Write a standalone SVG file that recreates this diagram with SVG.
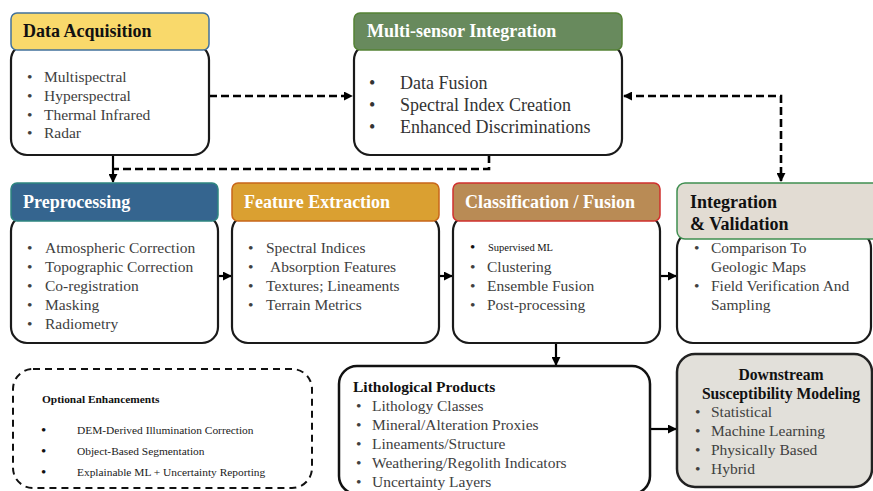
<svg xmlns="http://www.w3.org/2000/svg" width="873" height="491" viewBox="0 0 873 491">
<defs>
<marker id="ah" viewBox="0 0 10 10" refX="9" refY="5" markerWidth="9" markerHeight="9" markerUnits="userSpaceOnUse" orient="auto-start-reverse">
<path d="M0,0 L10,5 L0,10 z" fill="#000"/>
</marker>
<style>
text{font-family:"Liberation Serif","Times New Roman",serif;}
.body{fill:#fff;stroke:#1a1a1a;stroke-width:2.2;}
.hd{font-size:18px;font-weight:bold;}
.w{fill:#fff;}
.k{fill:#111;}
.it{font-size:15.5px;fill:#404040;}
.it2{font-size:18px;fill:#333;}
.sm{font-size:11.4px;fill:#1a1a1a;}
.bl{font-size:15px;fill:#111;}
.solid{fill:none;stroke:#000;stroke-width:2.2;}
.dash{fill:none;stroke:#000;stroke-width:2.6;stroke-dasharray:8 4;}
</style>
</defs>
<rect width="873" height="491" fill="#fff"/>

<g id="connectors">
<path class="dash" d="M209,96 H352" marker-end="url(#ah)"/>
<path class="dash" d="M624,96 H781 V181" marker-start="url(#ah)" marker-end="url(#ah)"/>
<path class="dash" d="M489,155 V169 H113"/>
<path class="solid" d="M113,155 V182" marker-end="url(#ah)"/>
<path class="solid" d="M218,276 H231" marker-end="url(#ah)"/>
<path class="solid" d="M439,276 H452" marker-end="url(#ah)"/>
<path class="solid" d="M660,276 H676" marker-end="url(#ah)"/>
<path class="solid" d="M556,343 V365" marker-end="url(#ah)"/>
<path class="solid" d="M651,429 H676" marker-end="url(#ah)" stroke-width="2.6"/>
</g>

<g id="data-acquisition">
<rect class="body" x="11" y="44" width="198" height="111" rx="16"/>
<rect x="11" y="13" width="198" height="37" rx="6" fill="#F9D96B" stroke="#41719C" stroke-width="1.5"/>
<text class="hd k" x="23" y="37">Data Acquisition</text>
<g class="it">
<text x="27" y="82">•</text><text x="44" y="82">Multispectral</text>
<text x="27" y="101">•</text><text x="44" y="101">Hyperspectral</text>
<text x="27" y="119.5">•</text><text x="44" y="119.5">Thermal Infrared</text>
<text x="27" y="138">•</text><text x="44" y="138">Radar</text>
</g>
</g>

<g id="multi-sensor-integration">
<rect class="body" x="354" y="44" width="268" height="111" rx="16"/>
<rect x="354" y="13" width="268" height="37" rx="6" fill="#688A5D" stroke="#548235" stroke-width="1.5"/>
<text class="hd w" x="367" y="37">Multi-sensor Integration</text>
<g class="it2">
<text x="369" y="89">•</text><text x="400" y="89">Data Fusion</text>
<text x="369" y="111">•</text><text x="400" y="111">Spectral Index Creation</text>
<text x="369" y="133">•</text><text x="400" y="133">Enhanced Discriminations</text>
</g>
</g>

<g id="preprocessing">
<rect class="body" x="11" y="215" width="207" height="128" rx="16"/>
<rect x="11" y="183" width="207" height="38" rx="6" fill="#35658F" stroke="#2E8580" stroke-width="1.5"/>
<text class="hd w" x="23" y="208">Preprocessing</text>
<g class="it">
<text x="27" y="253">•</text><text x="45" y="253">Atmospheric Correction</text>
<text x="27" y="272">•</text><text x="45" y="272">Topographic Correction</text>
<text x="27" y="291">•</text><text x="45" y="291">Co-registration</text>
<text x="27" y="310">•</text><text x="45" y="310">Masking</text>
<text x="27" y="328.5">•</text><text x="45" y="328.5">Radiometry</text>
</g>
</g>

<g id="feature-extraction">
<rect class="body" x="232" y="215" width="207" height="128" rx="16"/>
<rect x="232" y="183" width="207" height="38" rx="6" fill="#DAA031" stroke="#C8661A" stroke-width="1.5"/>
<text class="hd w" x="244" y="208">Feature Extraction</text>
<g class="it">
<text x="248" y="253">•</text><text x="266" y="253">Spectral Indices</text>
<text x="248" y="272">•</text><text x="270" y="272">Absorption Features</text>
<text x="248" y="291">•</text><text x="266" y="291">Textures; Lineaments</text>
<text x="248" y="310">•</text><text x="266" y="310">Terrain Metrics</text>
</g>
</g>

<g id="classification-fusion">
<rect class="body" x="453" y="215" width="207" height="128" rx="16"/>
<rect x="453" y="183" width="207" height="38" rx="6" fill="#B98B55" stroke="#D0302E" stroke-width="1.5"/>
<text class="hd w" x="465" y="208">Classification / Fusion</text>
<text x="470" y="252" class="bl">•</text>
<text x="488" y="251" style="font-size:10.5px;fill:#111">Supervised ML</text>
<g class="it">
<text x="470" y="272">•</text><text x="487" y="272">Clustering</text>
<text x="470" y="291">•</text><text x="487" y="291">Ensemble Fusion</text>
<text x="470" y="310">•</text><text x="487" y="310">Post-processing</text>
</g>
</g>

<g id="integration-validation">
<rect class="body" x="677" y="232" width="194" height="111" rx="16"/>
<rect x="677" y="183" width="205" height="56" rx="8" fill="#E2DCD3" stroke="#3F8E50" stroke-width="1.5"/>
<text class="hd k" x="690" y="208">Integration</text>
<text class="hd k" x="690" y="230">&amp; Validation</text>
<g class="it">
<text x="694" y="253">•</text><text x="711" y="253">Comparison To</text>
<text x="711" y="272">Geologic Maps</text>
<text x="694" y="291">•</text><text x="711" y="291">Field Verification And</text>
<text x="711" y="310">Sampling</text>
</g>
</g>

<g id="optional-enhancements">
<rect x="13" y="369" width="299" height="119" rx="20" fill="none" stroke="#111" stroke-width="2" stroke-dasharray="7 5"/>
<text x="42" y="403" style="font-size:11.4px;font-weight:bold;fill:#111">Optional Enhancements</text>
<text class="bl" x="41" y="435">•</text><text class="sm" x="77" y="434">DEM-Derived Illumination Correction</text>
<text class="bl" x="41" y="456">•</text><text class="sm" x="77" y="455">Object-Based Segmentation</text>
<text class="bl" x="41" y="477">•</text><text class="sm" x="77" y="476">Explainable ML + Uncertainty Reporting</text>
</g>

<g id="lithological-products">
<rect x="339" y="366" width="311" height="128" rx="18" fill="#fff" stroke="#111" stroke-width="2.5"/>
<text x="353" y="392" style="font-size:15.5px;font-weight:bold;fill:#111">Lithological Products</text>
<g class="it">
<text x="356" y="411">•</text><text x="372" y="411">Lithology Classes</text>
<text x="356" y="430">•</text><text x="372" y="430">Mineral/Alteration Proxies</text>
<text x="356" y="449">•</text><text x="372" y="449">Lineaments/Structure</text>
<text x="356" y="468">•</text><text x="372" y="468">Weathering/Regolith Indicators</text>
<text x="356" y="487">•</text><text x="372" y="487">Uncertainty Layers</text>
</g>
</g>

<g id="downstream-modeling">
<rect x="677" y="354" width="195" height="133" rx="18" fill="#E2E0DA" stroke="#222" stroke-width="2.5"/>
<text x="781" y="380" text-anchor="middle" style="font-size:15.7px;font-weight:bold;fill:#111">Downstream</text>
<text x="781" y="399" text-anchor="middle" style="font-size:15.7px;font-weight:bold;fill:#111">Susceptibility Modeling</text>
<g class="it">
<text x="695" y="417">•</text><text x="711" y="417">Statistical</text>
<text x="695" y="436">•</text><text x="711" y="436">Machine Learning</text>
<text x="695" y="455">•</text><text x="711" y="455">Physically Based</text>
<text x="695" y="474">•</text><text x="711" y="474">Hybrid</text>
</g>
</g>
</svg>
